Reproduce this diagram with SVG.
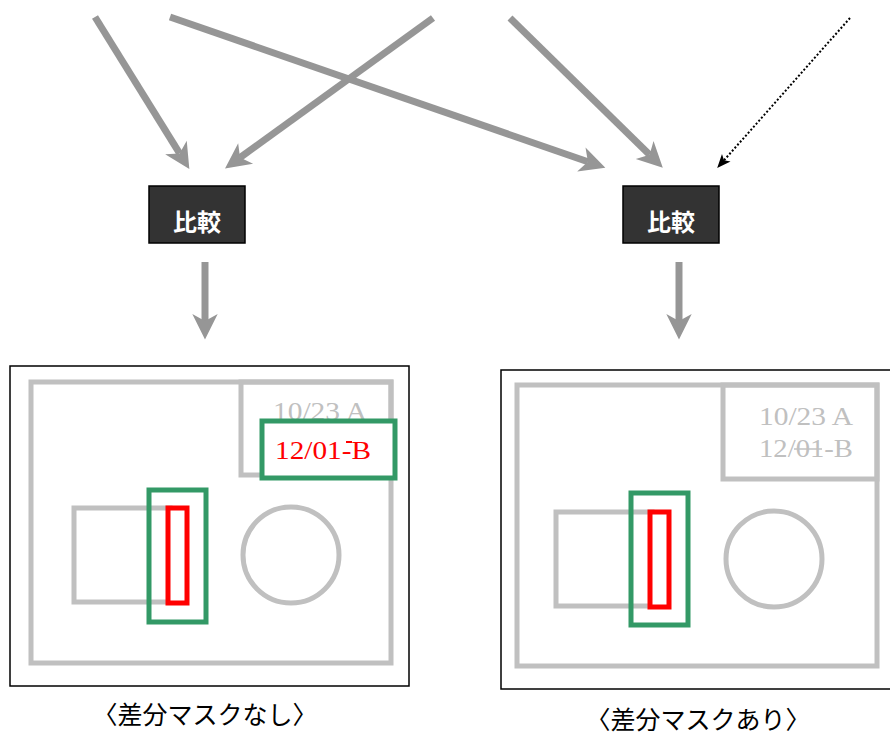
<svg xmlns="http://www.w3.org/2000/svg" width="890" height="736" viewBox="0 0 890 736">
<style>
.conn{stroke:#969696;stroke-width:7;fill:none}
.dot{stroke:#000;stroke-width:2;stroke-dasharray:2 2;fill:none}
.cmp rect{fill:#333;stroke:#000;stroke-width:1.5}
.cmp text{fill:#fff;font:bold 24px "Noto Sans CJK JP","Noto Sans",sans-serif;text-anchor:middle}
.frame{fill:#fff;stroke:#000;stroke-width:1.5}
.gray{fill:none;stroke:#c0c0c0;stroke-width:5}
.green{fill:none;stroke:#339966;stroke-width:5}
.red{fill:#fff;stroke:#ff0000;stroke-width:5}
.gt{fill:#c0c0c0;font-family:"Liberation Serif",serif;font-size:26px}
.rt{fill:#ff0000;font-family:"Liberation Serif",serif;font-size:26px}
.cap{fill:#000;font-family:"Noto Sans CJK JP","Noto Sans",sans-serif;font-size:25px;text-anchor:middle}
</style>
<defs>
<marker id="ah" markerUnits="userSpaceOnUse" markerWidth="30" markerHeight="30" viewBox="-8 -12 26 24" refX="0" refY="0" orient="auto">
<path d="M-6,-11 L16,0 L-6,11 L0,0 z" fill="#969696"/>
</marker>
<marker id="ahs" markerUnits="userSpaceOnUse" markerWidth="16" markerHeight="16" viewBox="-4 -6 14 12" refX="0" refY="0" orient="auto">
<path d="M-3,-5 L9,0 L-3,5 L0,0 z" fill="#000"/>
</marker>
</defs>
<g id="connectors">
<line class="conn" x1="95" y1="17" x2="179.6" y2="153.4" marker-end="url(#ah)"/>
<line class="conn" x1="170" y1="17" x2="587.9" y2="161.8" marker-end="url(#ah)"/>
<line class="conn" x1="433" y1="18" x2="240" y2="157.6" marker-end="url(#ah)"/>
<line class="conn" x1="510" y1="18" x2="649.6" y2="154.8" marker-end="url(#ah)"/>
<line class="dot" x1="850" y1="18" x2="724" y2="160.3" marker-end="url(#ahs)"/>
<line class="conn" x1="205" y1="262" x2="205" y2="321" marker-end="url(#ah)"/>
<line class="conn" x1="679" y1="262" x2="679" y2="321" marker-end="url(#ah)"/>
</g>
<g id="compare-left" class="cmp">
<rect x="149" y="186" width="96" height="57"/>
<text x="197" y="231">比較</text>
</g>
<g id="compare-right" class="cmp">
<rect x="623" y="186" width="96" height="57"/>
<text x="671" y="231">比較</text>
</g>
<g id="result-left">
<rect class="frame" x="10" y="366" width="399" height="320"/>
<rect class="gray" x="31" y="382" width="360" height="281"/>
<rect class="gray" x="241" y="382" width="150" height="93"/>
<text class="gt" x="273" y="420" textLength="94" lengthAdjust="spacingAndGlyphs">10/23 A</text>
<rect x="262" y="421" width="133" height="57" fill="#fff"/>
<rect class="green" x="262" y="421" width="133" height="57"/>
<text class="rt" x="275" y="459" textLength="96" lengthAdjust="spacingAndGlyphs">12/01-B</text>
<line x1="346" y1="442" x2="352" y2="442" stroke="#ff0000" stroke-width="2"/>
<rect class="gray" x="74" y="508" width="96" height="94"/>
<rect class="red" x="168" y="508" width="19" height="95"/>
<rect class="green" x="149" y="490" width="57" height="132"/>
<circle class="gray" cx="291" cy="555" r="48"/>
<text class="cap" x="205" y="724">〈差分マスクなし〉</text>
</g>
<g id="result-right">
<rect class="frame" x="501" y="370" width="390" height="319"/>
<rect class="gray" x="517" y="385" width="360" height="281"/>
<rect class="gray" x="723" y="385" width="154" height="94"/>
<text class="gt" x="759" y="425" textLength="94" lengthAdjust="spacingAndGlyphs">10/23 A</text>
<text class="gt" x="759" y="457" textLength="94" lengthAdjust="spacingAndGlyphs">12/01-B</text>
<line x1="794" y1="449" x2="822" y2="449" stroke="#c0c0c0" stroke-width="1.5"/>
<rect class="gray" x="556" y="512" width="96" height="94"/>
<rect class="red" x="650" y="512" width="19" height="95"/>
<rect class="green" x="631" y="493" width="57" height="132"/>
<circle class="gray" cx="774" cy="559" r="48"/>
<text class="cap" x="698" y="729">〈差分マスクあり〉</text>
</g>
</svg>
